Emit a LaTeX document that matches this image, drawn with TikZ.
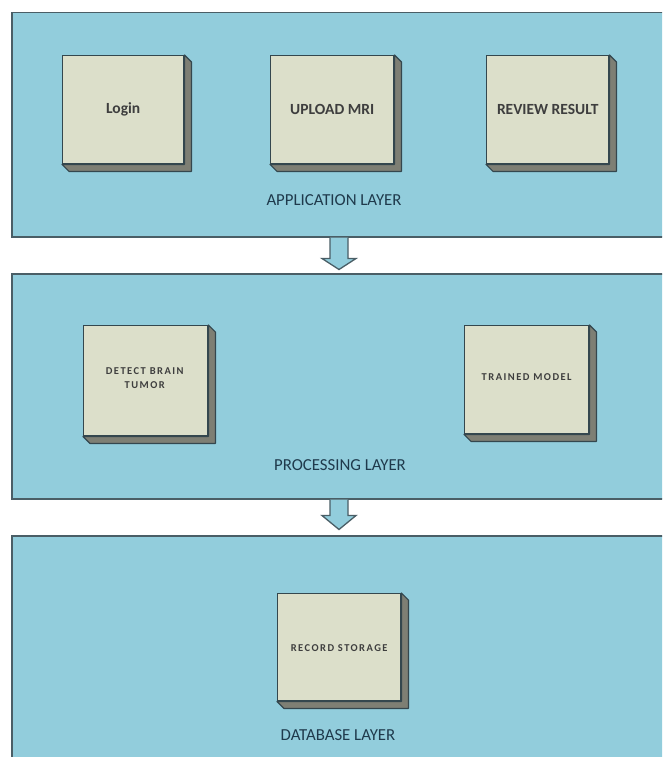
\documentclass[tikz,border=0pt]{standalone}
\usepackage{fontspec}
\setmainfont{Carlito}
\newfontfamily\trackedfont[LetterSpace=14]{Carlito}
\usetikzlibrary{calc}

\definecolor{layerfill}{HTML}{92CDDC}
\definecolor{layerline}{HTML}{4A5E66}
\definecolor{boxfront}{HTML}{DCDFCA}
\definecolor{boxside}{HTML}{7E7F74}
\definecolor{boxline}{HTML}{34474E}
\definecolor{boxtext}{HTML}{3E3E3E}
\definecolor{layertext}{HTML}{1F3A4C}

\tikzset{
  layer/.style={draw=layerline, line width=1.5pt, fill=layerfill,
    rectangle, anchor=north west, minimum width=659pt, inner sep=0pt},
  cube/.style={draw=boxline, line width=1.4pt, fill=boxfront,
    rectangle, anchor=north west, inner sep=0pt, align=center,
    text=boxtext},
  bigtext/.style={font=\fontsize{15.5}{18}\selectfont\bfseries},
  smalltext/.style={font=\fontsize{10.5}{14}\selectfont\trackedfont\bfseries},
  side/.style={draw=boxline, line width=1.2pt, fill=boxside, line join=round},
  layerlabel/.style={text=layertext, font=\fontsize{16.8}{19}\selectfont},
  blockarrow/.style={draw=layerline, line width=1.3pt, fill=layerfill, line join=miter}
}

% front face with its extruded right and bottom sides
\newcommand{\cubebox}[6]{% name, x, y, width, height, label style
  \node[cube, #6, minimum width=#4pt, minimum height=#5pt] (#1) at (#2,#3) {};
  \draw[side] (#1.north east) -- ++(7,7) -- ($(#1.south east)+(7,7)$)
    -- ($(#1.south west)+(7,7)$) -- (#1.south west) -- (#1.south east) -- cycle;
}

\begin{document}
\begin{tikzpicture}[x=1pt, y=-1pt]
\useasboundingbox (0,0) rectangle (662,757);
\clip (0,0) rectangle (662,757);
\fill[white] (0,0) rectangle (662,757);

% three layers
\node[layer, minimum height=224pt] (app)  at (11,12)  {};
\node[layer, minimum height=225pt] (proc) at (11,273) {};
\node[layer, minimum height=240pt] (db)   at (11,535) {};

% application layer
\cubebox{login}{62}{55}{121}{108}{bigtext}
\cubebox{upload}{270}{55}{123}{108}{bigtext}
\cubebox{review}{486}{55}{122}{108}{bigtext}
\node[bigtext, text=boxtext] at (login)  {Login};
\node[bigtext, text=boxtext] at (upload) {UPLOAD MRI};
\node[bigtext, text=boxtext] at (review) {REVIEW RESULT};
\node[layerlabel] (applabel) at (334,200) {APPLICATION LAYER};

% processing layer
\cubebox{detect}{83}{325}{124}{110}{smalltext}
\cubebox{trained}{464}{325}{124}{108}{smalltext}
\node[smalltext, text=boxtext, align=center] at ($(detect)+(-1,-3)$) {DETECT BRAIN\\TUMOR};
\node[smalltext, text=boxtext] at ($(trained)+(0,-3)$) {TRAINED MODEL};
\node[layerlabel] (proclabel) at (340,465) {PROCESSING LAYER};

% database layer
\cubebox{record}{277}{593}{123}{107}{smalltext}
\node[smalltext, text=boxtext] at ($(record)+(0,1)$) {RECORD STORAGE};
\node[layerlabel] (dblabel) at (338,735) {DATABASE LAYER};

% block arrows between layers
\coordinate (ax) at (339,0);
\draw[blockarrow]
  ($(ax |- app.south)+(-9,0)$) -- ++(0,21) -- ++(-8,0)
  -- ($(ax |- app.south)+(0,32)$)
  -- ($(ax |- app.south)+(17,21)$) -- ++(-8,0) -- ($(ax |- app.south)+(9,0)$);
\draw[blockarrow]
  ($(ax |- proc.south)+(-9,0)$) -- ++(0,16) -- ++(-8,0)
  -- ($(ax |- proc.south)+(0,30)$)
  -- ($(ax |- proc.south)+(17,16)$) -- ++(-8,0) -- ($(ax |- proc.south)+(9,0)$);
\end{tikzpicture}
\end{document}
